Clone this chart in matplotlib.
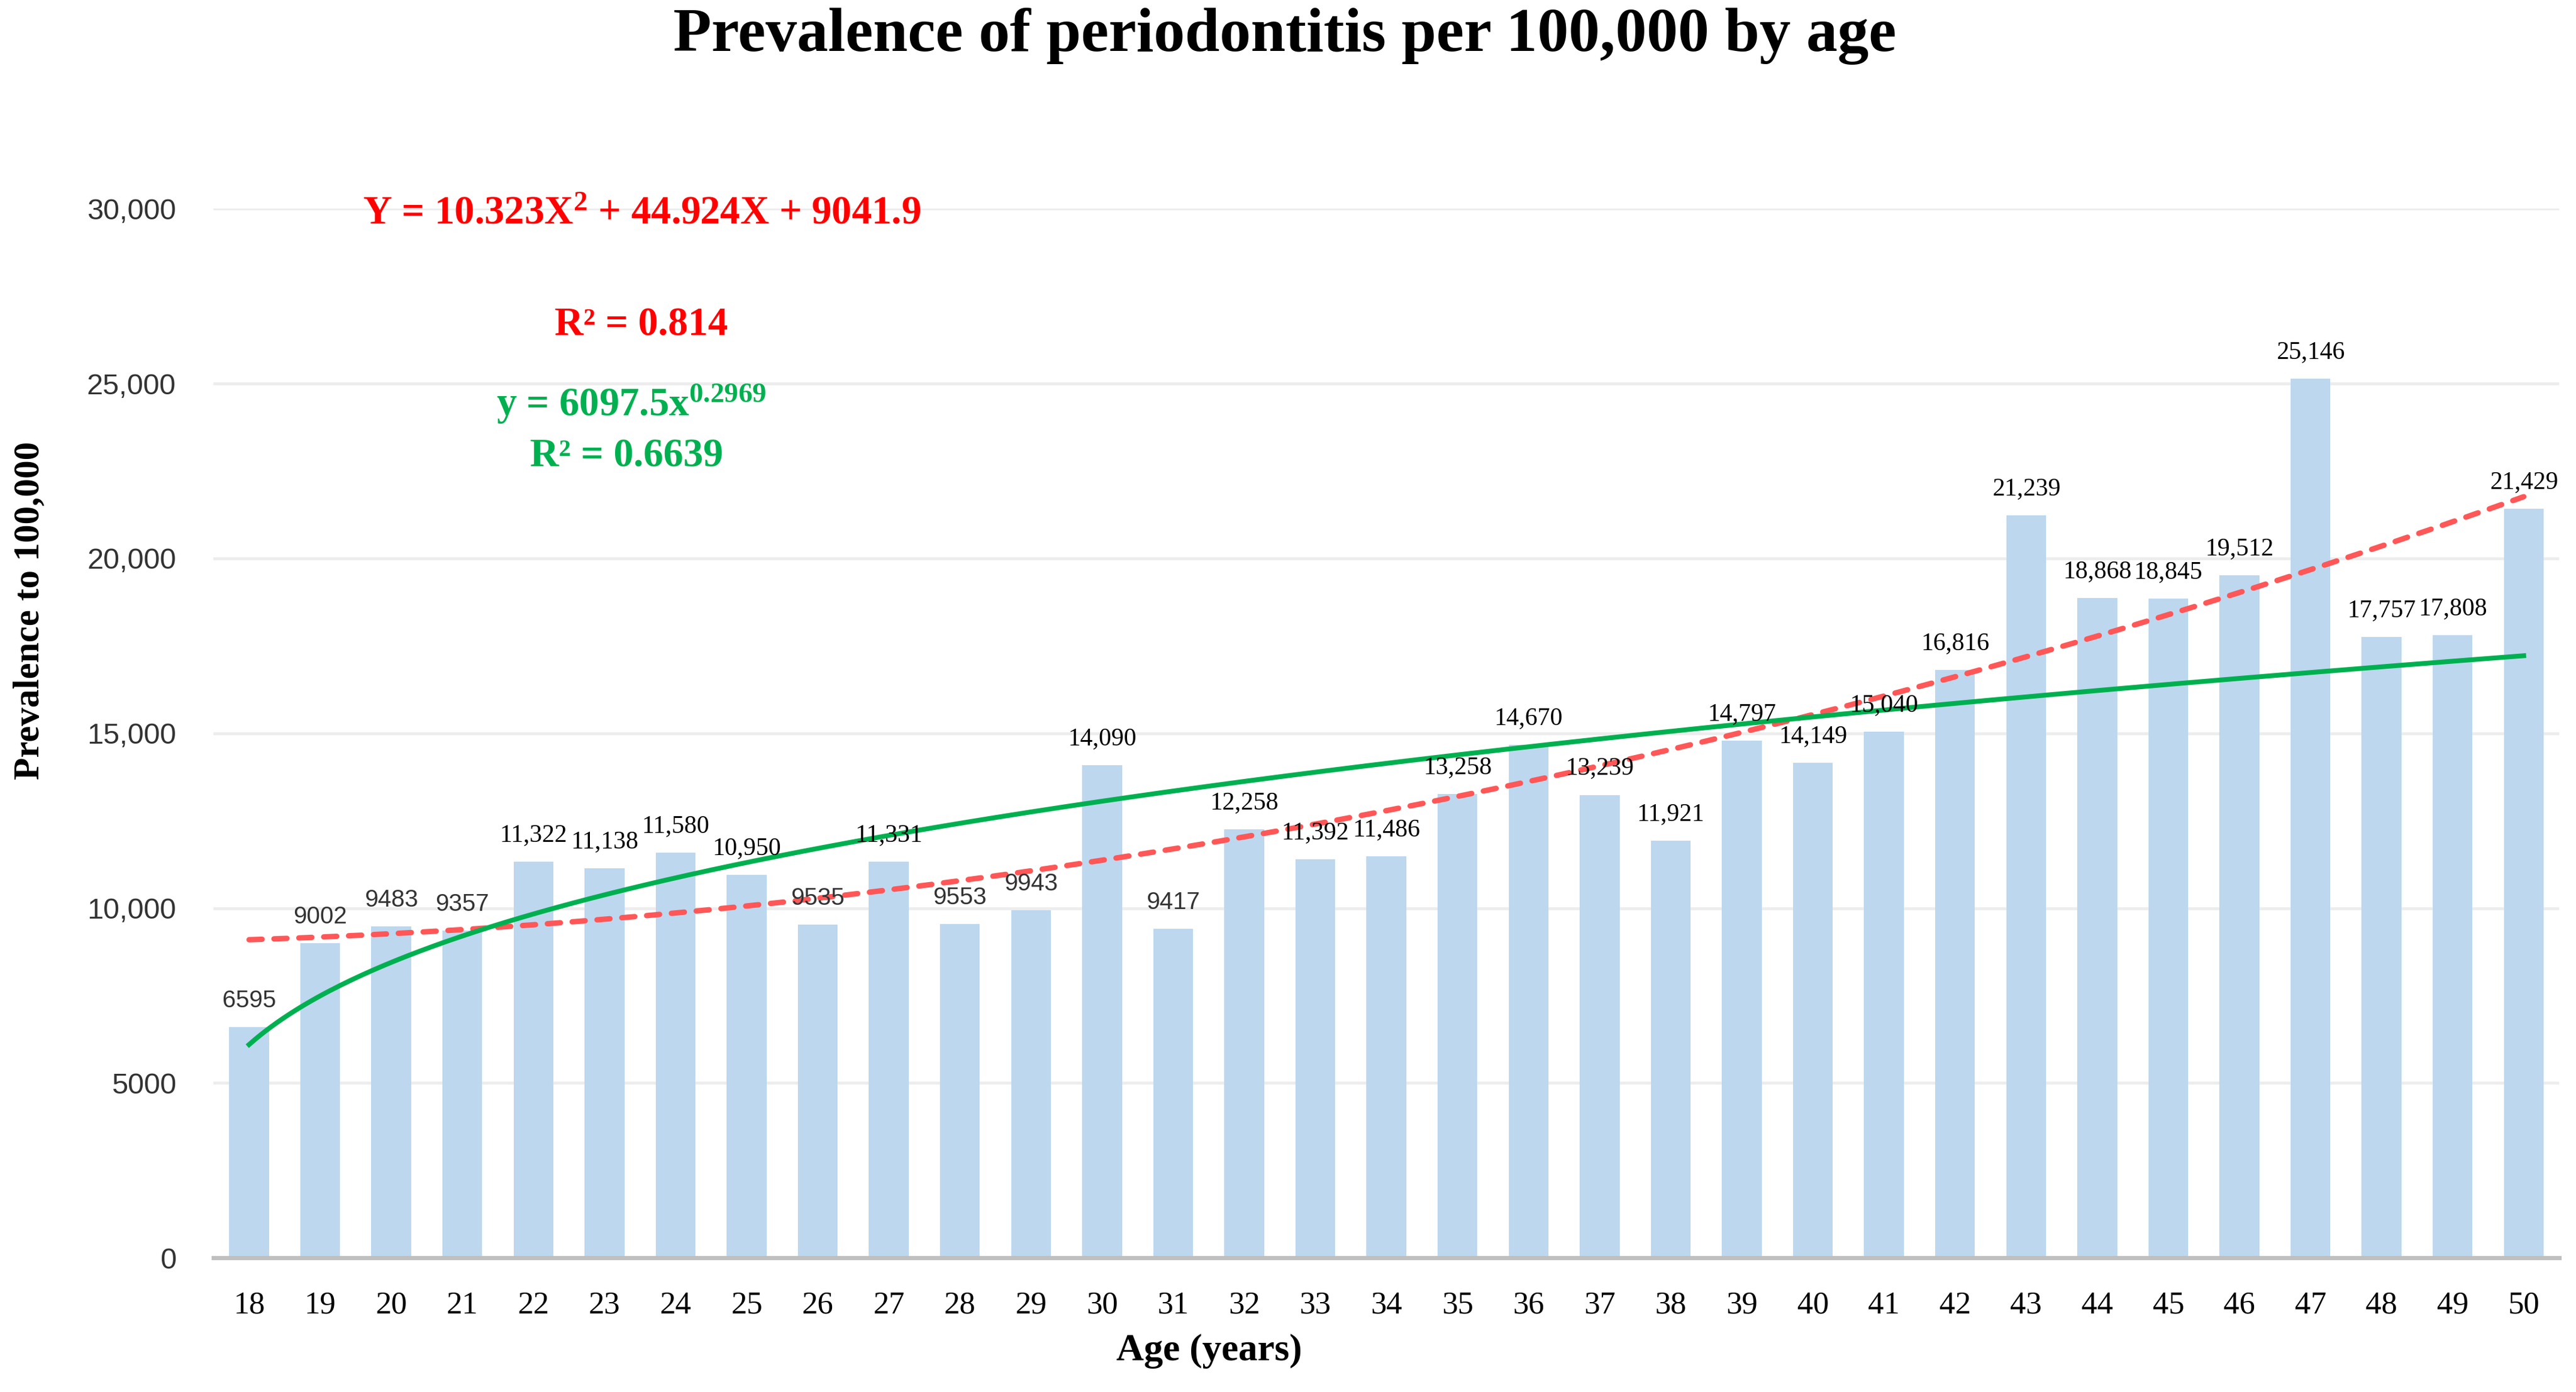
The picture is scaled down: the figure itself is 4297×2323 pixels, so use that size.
import matplotlib.pyplot as plt
import numpy as np

ages = list(range(18, 51))
prevalence = [6595, 9002, 9483, 9357, 11322, 11138, 11580, 10950, 9535, 11331,
              9553, 9943, 14090, 9417, 12258, 11392, 11486, 13258, 14670, 13239,
              11921, 14797, 14149, 15040, 16816, 21239, 18868, 18845, 19512, 25146,
              17757, 17808, 21429]

# trend line coefficients as printed on the chart (X = 1..33)
poly_a, poly_b, poly_c = 10.323, 44.924, 9041.9
pow_a, pow_b = 6097.5, 0.2969

yticks = [0, 5000, 10000, 15000, 20000, 25000, 30000]
ytick_labels = ["0", "5000", "10,000", "15,000", "20,000", "25,000", "30,000"]

serif = "Liberation Serif"
sans = "Liberation Sans"
plt.rcParams["mathtext.fontset"] = "custom"
plt.rcParams["mathtext.rm"] = "Liberation Serif:bold"
plt.rcParams["mathtext.bf"] = "Liberation Serif:bold"
plt.rcParams["mathtext.it"] = "Liberation Serif:bold"
plt.rcParams["mathtext.default"] = "bf"

fig = plt.figure(figsize=(42.97, 23.23), dpi=100)
ax = fig.add_axes([0.0829, 0.0964, 0.9106, 0.7536])

x = np.arange(len(ages))
ax.bar(x, prevalence, width=0.56, color="#BDD7EE", zorder=2)

# smooth trend curves over the category range
X = np.linspace(1, len(ages), 400)
ax.plot(X - 1, poly_a * X**2 + poly_b * X + poly_c, color="#FF5757", lw=6.5,
        ls=(0, (2.4, 2.2)), dash_capstyle="round", zorder=3)
ax.plot(X - 1, pow_a * X**pow_b, color="#00B050", lw=5.8, zorder=3)

for xi, v in zip(x, prevalence):
    if v >= 10000:
        ax.annotate(f"{v:,}", (xi, v), xytext=(0, 18), textcoords="offset points",
                    ha="center", va="bottom", fontsize=30, family=serif, zorder=4)
    else:
        ax.annotate(str(v), (xi, v), xytext=(0, 18), textcoords="offset points",
                    ha="center", va="bottom", fontsize=29, family=sans,
                    color="#333333", zorder=4)

ax.set_xlim(-0.5, len(ages) - 0.5)
ax.set_ylim(0, 30000)
ax.set_xticks(x)
ax.set_xticklabels([str(a) for a in ages], fontsize=38, family=serif)
ax.set_yticks(yticks)
ax.set_yticklabels(ytick_labels, fontsize=35, family=sans, color="#333333")
ax.tick_params(axis="both", length=0)
ax.tick_params(axis="x", pad=40)
ax.tick_params(axis="y", pad=45)
ax.grid(axis="y", color="#EDEDED", lw=3.5, zorder=0)
ax.set_axisbelow(True)
for s in ["top", "right", "left"]:
    ax.spines[s].set_visible(False)
ax.spines["bottom"].set_color("#BFBFBF")
ax.spines["bottom"].set_linewidth(5)
ax.spines["bottom"].set_zorder(5)

fig.text(0.4988, 0.974, "Prevalence of periodontitis per 100,000 by age",
         ha="center", va="center", fontsize=75, fontweight="bold", family=serif)
fig.text(0.0114, 0.5613, "Prevalence to 100,000", rotation=90, ha="center",
         va="center", fontsize=44, fontweight="bold", family=serif)
fig.text(0.4694, 0.0293, "Age (years)", ha="center", va="center",
         fontsize=46, fontweight="bold", family=serif)

red = "#FF0000"
green = "#00B050"
ax.text(0.1827, 0.9954, r"Y = 10.323X$^{2}$ + 44.924X + 9041.9", transform=ax.transAxes,
        ha="center", va="center", fontsize=48, fontweight="bold", family=serif, color=red)
ax.text(0.1822, 0.8886, "R² = 0.814", transform=ax.transAxes,
        ha="center", va="center", fontsize=48, fontweight="bold", family=serif, color=red)
ax.text(0.178, 0.814, r"y = 6097.5x$^{0.2969}$", transform=ax.transAxes,
        ha="center", va="center", fontsize=48, fontweight="bold", family=serif, color=green)
ax.text(0.176, 0.7636, "R² = 0.6639", transform=ax.transAxes,
        ha="center", va="center", fontsize=48, fontweight="bold", family=serif, color=green)

fig.savefig("out.png", dpi=100)
